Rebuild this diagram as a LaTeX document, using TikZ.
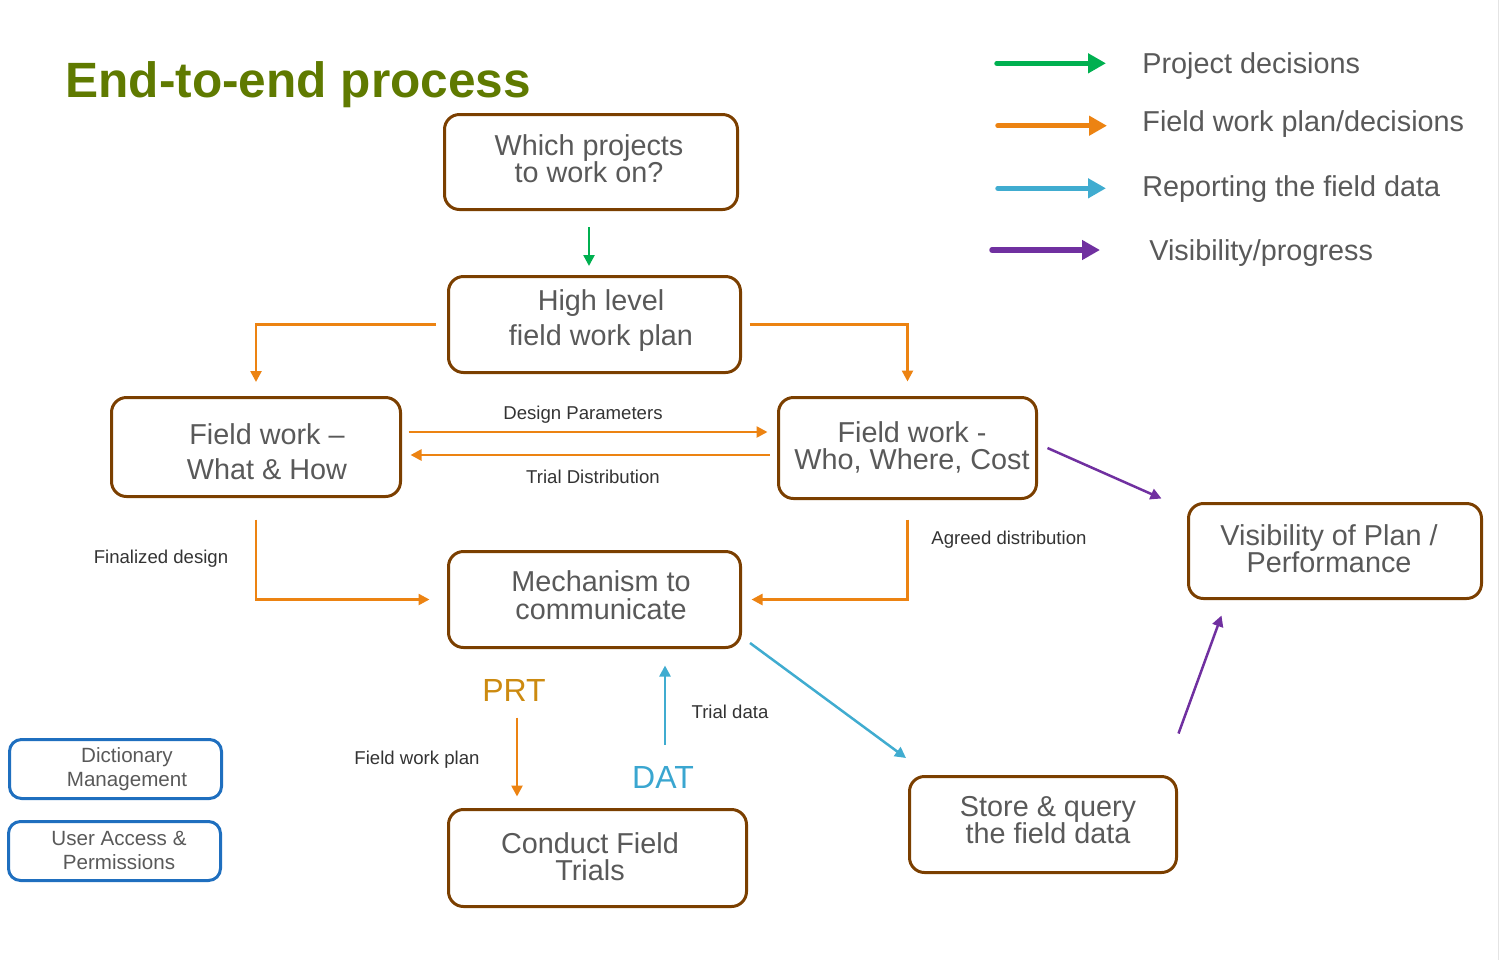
\documentclass[tikz,border=0pt]{standalone}
\usepackage{fontspec}
\setmainfont{Liberation Sans}
\usetikzlibrary{arrows.meta}
\definecolor{boxbrown}{HTML}{7B3F00}
\definecolor{boxblue}{HTML}{1F6FBF}
\definecolor{cgreen}{HTML}{00B050}
\definecolor{corange}{HTML}{EC8312}
\definecolor{cblue}{HTML}{40ACD0}
\definecolor{cpurple}{HTML}{7030A0}
\definecolor{txtgray}{HTML}{595959}
\definecolor{lbldark}{HTML}{333333}
\definecolor{titlegreen}{HTML}{5F7A00}
\definecolor{prtcol}{HTML}{CC8A10}
\definecolor{datcol}{HTML}{3AA6D0}
\definecolor{edgegray}{HTML}{E4E4E4}
\begin{document}
\begin{tikzpicture}[x=0.5pt,y=-0.5pt,
  box/.style={draw=boxbrown, line width=1.5pt, rounded corners=7.5pt, inner sep=0pt},
  bbox/.style={draw=boxblue, line width=1.5pt, rounded corners=6pt, inner sep=0pt},
  boxtxt/.style={text=txtgray, align=center, inner sep=0pt},
  lbl/.style={text=lbldark, font=\fontsize{9.3}{11}\selectfont, inner sep=0pt},
  arr/.style={line width=1.25pt, -{Triangle[length=5.5pt,width=5.5pt]}},
  oarr/.style={arr, draw=corange},
  legarr/.style={line width=2.75pt, line cap=round, -{Triangle[length=9pt,width=9.5pt]}},
  legtxt/.style={text=txtgray, anchor=base west, inner sep=0pt, font=\fontsize{14.4}{17}\selectfont}
]
\useasboundingbox (0,0) rectangle (1500,960);
\draw[edgegray, line width=0.5pt] (1498,0) -- (1498,960);

% title
\node[anchor=base west, inner sep=0pt, text=titlegreen, font=\fontsize{24.8}{30}\selectfont\bfseries] (title) at (65,97) {End-to-end process};

% legend
\node[legtxt] (lg1) at (1142,73.3) {Project decisions};
\node[legtxt] (lg2) at (1142,131.7) {Field work plan/decisions};
\node[legtxt] (lg3) at (1142,196.7) {Reporting the field data};
\node[legtxt] (lg4) at (1149,260.7) {Visibility/progress};
\coordinate (la1) at (997,63.3);  \coordinate (lb1) at (1106,63.3);
\coordinate (la2) at (998,125.7); \coordinate (lb2) at (1107,125.7);
\coordinate (la3) at (998,188.3); \coordinate (lb3) at (1106,188.3);
\coordinate (la4) at (992,250);   \coordinate (lb4) at (1100,250);
\draw[legarr, draw=cgreen] (la1) -- (lb1);
\draw[legarr, draw=corange] (la2) -- (lb2);
\draw[legarr, draw=cblue] (la3) -- (lb3);
\draw[legarr, draw=cpurple] (la4) -- (lb4);

% boxes
\node[box, minimum width=146.5pt, minimum height=47.5pt] (b1) at (591,162) {};
\node[box, minimum width=146pt, minimum height=48pt] (b2) at (594.5,324.5) {};
\node[box, minimum width=144.5pt, minimum height=49.5pt] (b3) at (256,447) {};
\node[box, minimum width=129pt, minimum height=50.5pt] (b4) at (907.5,448) {};
\node[box, minimum width=146pt, minimum height=48pt] (b5) at (594.5,599.5) {};
\node[box, minimum width=146.5pt, minimum height=47.5pt] (b6) at (1335,551) {};
\node[box, minimum width=133.5pt, minimum height=48pt] (b7) at (1043,824.5) {};
\node[box, minimum width=149pt, minimum height=48.5pt] (b8) at (597.5,858) {};
\node[bbox, minimum width=106pt, minimum height=29.5pt] (b9) at (115.5,769) {};
\node[bbox, minimum width=106pt, minimum height=29.5pt] (b10) at (114.5,851) {};

% box texts
\node[boxtxt, font=\fontsize{14.4}{13.5}\selectfont] (t1) at (589,159) {Which projects\\to work on?};
\node[boxtxt, font=\fontsize{14.4}{17.5}\selectfont] (t2) at (601,321) {High level\\field work plan};
\node[boxtxt, font=\fontsize{14.4}{17.5}\selectfont] (t3) at (267,452) {Field work –\\What \& How};
\node[boxtxt, font=\fontsize{14.4}{13.5}\selectfont] (t4) at (912,447) {Field work -\\Who, Where, Cost};
\node[boxtxt, font=\fontsize{14.4}{14}\selectfont] (t5) at (601,595) {Mechanism to\\communicate};
\node[boxtxt, font=\fontsize{14.4}{13.5}\selectfont] (t6) at (1329,549) {Visibility of Plan /\\Performance};
\node[boxtxt, font=\fontsize{14.4}{13.5}\selectfont] (t7) at (1048,820) {Store \& query\\the field data};
\node[boxtxt, font=\fontsize{14.4}{13.5}\selectfont] (t8) at (590,857) {Conduct Field\\Trials};
\node[boxtxt, font=\fontsize{10.3}{12}\selectfont] (t9) at (127,769) {Dictionary\\Management};
\node[boxtxt, font=\fontsize{10.3}{12}\selectfont] (t10) at (119,850) {User Access \&\\Permissions};

% connector labels
\node[lbl] (l1) at (583,415) {Design Parameters};
\node[lbl] (l2) at (593,477) {Trial Distribution};
\node[lbl] (l3) at (161,559) {Finalized design};
\node[lbl, anchor=west] (l4) at (931,540) {Agreed distribution};
\node[lbl] (l5) at (417,760) {Field work plan};
\node[lbl] (l6) at (730,712) {Trial data};
\node[inner sep=0pt, text=prtcol, font=\fontsize{16}{19}\selectfont] (prt) at (514,690) {PRT};
\node[inner sep=0pt, text=datcol, font=\fontsize{16}{19}\selectfont] (dat) at (663,777) {DAT};

% connectors
\draw[arr, draw=cgreen, shorten <=8pt, shorten >=4.5pt]
  ([xshift=-1pt]b1.south) -- ([xshift=-2.75pt]b2.north);
\draw[oarr, shorten <=5.5pt, shorten >=7pt] (b2.west) -| (b3.north);
\draw[oarr, shorten <=3.75pt, shorten >=7.25pt] (b2.east) -| (b4.north);
\draw[oarr, shorten <=3.25pt, shorten >=4.75pt] ([yshift=7.5pt]b3.east) -- ([yshift=8pt]b4.west);
\draw[oarr, shorten <=3.75pt, shorten >=4.25pt] ([yshift=-3.5pt]b4.west) -- ([yshift=-4pt]b3.east);
\draw[oarr, shorten <=10.75pt, shorten >=8.75pt] (b3.south) |- (b5.west);
\draw[oarr, shorten <=9.75pt, shorten >=4.75pt] (b4.south) |- (b5.east);
\draw[oarr, shorten <=34.25pt, shorten >=5.75pt] ([xshift=-38.75pt]b5.south) -- ([xshift=-40.25pt]b8.north);
\draw[arr, draw=cblue, shorten <=31.75pt, shorten >=8.25pt] ([xshift=33.75pt]b8.north) -- ([xshift=35.25pt]b5.south);
\draw[arr, draw=cblue] ([xshift=4pt,yshift=3pt]b5.south east) -- ([xshift=-1pt,yshift=8.5pt]b7.north west);
\draw[arr, draw=cpurple] ([xshift=4.75pt]b4.east) -- ([xshift=-12.75pt,yshift=1.75pt]b6.north west);
\draw[arr, draw=cpurple] ([xshift=0.25pt,yshift=20.75pt]b7.north east) -- ([xshift=17.25pt,yshift=-7.75pt]b6.south west);
\end{tikzpicture}
\end{document}
